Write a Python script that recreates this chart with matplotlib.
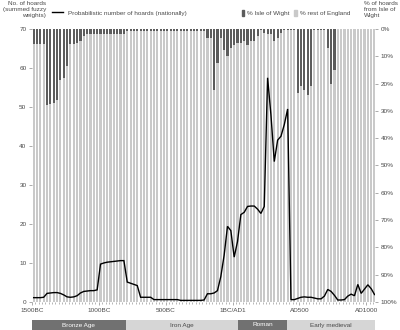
import numpy as np
import matplotlib
matplotlib.use("Agg")
import matplotlib.pyplot as plt
from matplotlib.lines import Line2D
from matplotlib.patches import Patch

plt.rcParams['font.family'] = ['Liberation Sans', 'DejaVu Sans']

# 25-year bins starting at 1500BC (negative years = BC)
bin_start = -1500
bin_size = 25

# % of hoards from the Isle of Wight in each bin
iow_pct = [5.5, 5.5, 5.5, 5.5, 28, 27.5, 27, 26, 18.5, 18,
           13.5, 5.5, 5.5, 5, 4.4, 2.6, 2, 2, 2, 2,
           1.7, 1.7, 1.7, 1.7, 1.7, 1.7, 1.7, 1.7, 0.6, 0.6,
           0.6, 0.6, 0.6, 0.6, 0.6, 0.6, 0.6, 0.6, 0.6, 0.6,
           0.6, 0.6, 0.6, 0.6, 0.6, 0.6, 0.6, 0.6, 0.6, 0.6,
           0.6, 0.6, 3.3, 3.3, 22.5, 12.5, 3.3, 7.7, 10, 7,
           6, 5, 5, 4.4, 6, 4.4, 4.4, 2.6, 0.5, 1.5,
           1.8, 1.8, 4.4, 3.3, 1.5, 0.5, 0.5, 0.5, 0.5, 23.5,
           21, 22.4, 24, 21, 0.5, 0.5, 0.5, 0.5, 7, 20,
           15, 0, 0, 0, 0, 0, 0, 0, 0, 0,
           0, 0, 0]

# probabilistic number of hoards (nationally) per bin
hoards = [1.1, 1.1, 1.1, 1.2, 2.2, 2.3, 2.4, 2.4, 2.2, 1.8,
          1.3, 1.2, 1.3, 1.6, 2.3, 2.7, 2.8, 2.9, 2.9, 3.1,
          9.7, 10.0, 10.2, 10.3, 10.4, 10.5, 10.6, 10.6, 5.1, 4.8,
          4.5, 4.2, 1.2, 1.2, 1.2, 1.2, 0.6, 0.6, 0.6, 0.6,
          0.6, 0.6, 0.6, 0.6, 0.4, 0.4, 0.4, 0.4, 0.4, 0.4,
          0.4, 0.5, 2.1, 2.1, 2.3, 2.9, 6.5, 12.0, 19.4, 18.3,
          11.5, 15.5, 22.4, 23.0, 24.5, 24.6, 24.6, 23.8, 22.7, 24.5,
          57.5, 48.0, 36.0, 41.5, 42.5, 45.5, 49.5, 0.6, 0.6, 0.9,
          1.2, 1.3, 1.2, 1.2, 1.0, 0.8, 0.8, 1.5, 3.2, 2.7,
          1.7, 0.5, 0.5, 0.6, 1.5, 2.0, 1.6, 4.5, 2.2, 3.3,
          4.4, 3.4, 1.9]

year_ticks = [-1500, -1000, -500, 0, 500, 1000]
year_labels = ['1500BC', '1000BC', '500BC', '1BC/AD1', 'AD500', 'AD1000']

eras = ['Bronze Age', 'Iron Age', 'Roman', 'Early medieval']
era_start = [-1500, -800, 43, 410]
era_end = [-800, 43, 410, 1066]
era_dark = [True, False, True, False]

dark = '#5c5c5c'
light = '#c9c9c9'
txt = '#4a4a4a'
fs = 4.6

centres = bin_start + bin_size * (np.arange(len(iow_pct)) + 0.5)
iow = np.array(iow_pct)

fig = plt.figure(figsize=(4, 3.3), dpi=100)
ax = fig.add_axes([0.08, 0.085, 0.8575, 0.827])
ax2 = ax.twinx()

# stacked percentage bars on the right axis (0% at the top)
ax2.bar(centres, iow, width=16, color=dark, linewidth=0)
ax2.bar(centres, 100 - iow, bottom=iow, width=16, color=light, linewidth=0)
ax2.set_ylim(100, 0)
ax2.set_yticks(range(0, 101, 10))
ax2.set_yticklabels([str(v) + '%' for v in range(0, 101, 10)])

ax.plot(centres, hoards, color='black', lw=1.0, solid_joinstyle='miter')
ax.set_ylim(0, 70)
ax.set_yticks(range(0, 71, 10))
ax.set_xlim(-1500, 1066)
ax.set_xticks(year_ticks)
ax.set_xticklabels(year_labels)
ax.set_xticks(np.arange(-1500, 1067, 25), minor=True)

ax.set_zorder(ax2.get_zorder() + 1)
ax.patch.set_visible(False)

for a in (ax, ax2):
    for s in a.spines.values():
        s.set_visible(False)
    a.tick_params(labelsize=fs, colors='#888888', labelcolor=txt, length=2, width=0.5, pad=2)
ax.tick_params(axis='x', which='minor', length=1.5, width=0.5, colors='#999999')
ax.tick_params(axis='x', which='major', length=2, pad=2)

# axis titles
fig.text(46 / 400, 1 - 1 / 330, 'No. of hoards\n(summed fuzzy\nweights)', ha='right', va='top',
         fontsize=fs, color=txt, linespacing=1.25)
fig.text(364 / 400, 1 - 1 / 330, '% of hoards\nfrom Isle of\nWight', ha='left', va='top',
         fontsize=fs, color=txt, linespacing=1.25)

# legends
leg1 = fig.legend(handles=[Line2D([], [], color='black', lw=1.0)],
                  labels=['Probabilistic number of hoards (nationally)'],
                  loc='center left', bbox_to_anchor=(52 / 400, 1 - 13 / 330), frameon=False,
                  fontsize=fs, handlelength=1.7, handletextpad=0.8, borderpad=0, borderaxespad=0)
for t in leg1.get_texts():
    t.set_color(txt)
leg2 = fig.legend(handles=[Patch(color=dark), Patch(color=light)],
                  labels=['% Isle of Wight', '% rest of England'], ncol=2,
                  loc='center left', bbox_to_anchor=(242 / 400, 1 - 13 / 330), frameon=False,
                  fontsize=fs, handlelength=0.35, handleheight=1.0, handletextpad=0.5,
                  columnspacing=0.7, borderpad=0, borderaxespad=0)
for t in leg2.get_texts():
    t.set_color(txt)

# period band under the chart
band = fig.add_axes([0.08, 0.0, 0.8575, 10 / 330])
band.set_xlim(-1500, 1066)
band.set_ylim(0, 1)
band.axis('off')
for name, s, e, d in zip(eras, era_start, era_end, era_dark):
    band.axvspan(s, e, color='#717171' if d else '#d6d6d6', lw=0)
    band.text((s + e) / 2, 0.5, name, ha='center', va='center', fontsize=fs,
              color='white' if d else txt)

fig.savefig('out.png', dpi=100)
